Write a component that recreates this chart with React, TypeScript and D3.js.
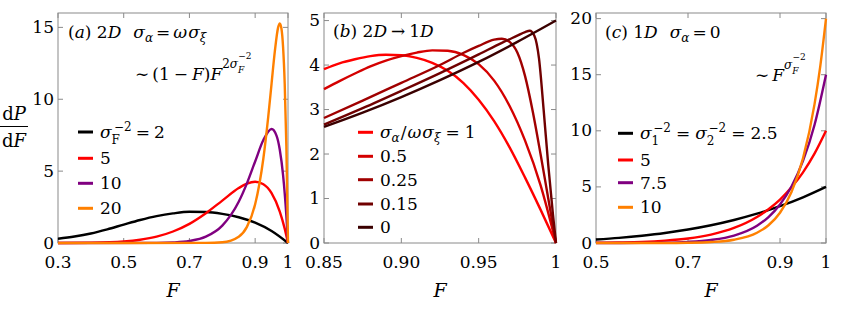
import * as d3 from 'd3'
import type { ReactNode } from 'react'

type Pt = [number, number]

const FONT = 'DejaVu Serif, serif'

// (a) 2D, sigma_alpha = omega sigma_xi
const aXTicks = [0.3, 0.5, 0.7, 0.9, 1]
const aXLabels = ['0.3', '0.5', '0.7', '0.9', '1']
const aYTicks = [0, 5, 10, 15]
const aColors = ['#000000', '#ff0000', '#800080', '#ff8000']
const aLegend = ['5', '10', '20']
const aSig2: Pt[] = [
  [0.3, 0.3], [0.35, 0.45], [0.4, 0.66], [0.45, 0.95], [0.5, 1.28], [0.55, 1.6], [0.6, 1.87],
  [0.65, 2.06], [0.7, 2.17], [0.75, 2.16], [0.8, 2.03], [0.85, 1.79], [0.9, 1.41], [0.95, 0.83], [1, 0],
]
const aSig5: Pt[] = [
  [0.3, 0], [0.4, 0.02], [0.5, 0.11], [0.55, 0.23], [0.6, 0.44], [0.65, 0.8], [0.7, 1.33], [0.75, 2.07],
  [0.8, 2.95], [0.85, 3.82], [0.875, 4.13], [0.9, 4.26], [0.925, 4.09], [0.95, 3.47], [0.975, 2.19],
  [0.99, 1.0], [1, 0],
]
const aSig10: Pt[] = [
  [0.3, 0], [0.6, 0.01], [0.65, 0.04], [0.7, 0.14], [0.75, 0.44], [0.8, 1.21], [0.85, 2.87], [0.875, 4.15],
  [0.9, 5.67], [0.925, 7.16], [0.95, 7.93], [0.965, 7.47], [0.975, 6.49], [0.985, 4.73], [0.995, 1.91], [1, 0],
]
const aSig20: Pt[] = [
  [0.3, 0], [0.75, 0.01], [0.8, 0.05], [0.85, 0.44], [0.875, 1.12], [0.9, 2.69], [0.925, 5.88], [0.94, 8.81],
  [0.95, 11.09], [0.96, 13.35], [0.97, 15.0], [0.975, 15.27], [0.98, 14.92], [0.985, 13.64], [0.99, 11.08],
  [0.995, 6.74], [1, 0],
]

// (b) 2D -> 1D
const bXTicks = [0.85, 0.9, 0.95, 1]
const bXLabels = ['0.85', '0.90', '0.95', '1']
const bYTicks = [0, 1, 2, 3, 4, 5]
const bColors = ['#ff0000', '#d40000', '#a00000', '#700000', '#3a0000']
const bLegend = ['0.5', '0.25', '0.15', '0']
const bR1: Pt[] = [
  [0.85, 3.91], [0.86, 4.04], [0.87, 4.13], [0.88, 4.2], [0.89, 4.23], [0.9, 4.22], [0.91, 4.16], [0.92, 4.05],
  [0.93, 3.87], [0.94, 3.6], [0.95, 3.22], [0.96, 2.74], [0.97, 2.15], [0.98, 1.47], [0.99, 0.75], [1, 0],
]
const bR05: Pt[] = [
  [0.85, 3.46], [0.86, 3.64], [0.87, 3.81], [0.88, 3.97], [0.89, 4.1], [0.9, 4.2], [0.91, 4.28], [0.92, 4.33],
  [0.93, 4.32], [0.94, 4.23], [0.95, 4.02], [0.96, 3.65], [0.97, 3.08], [0.98, 2.3], [0.99, 1.3], [1, 0],
]
const bR025: Pt[] = [
  [0.85, 2.81], [0.875, 3.2], [0.9, 3.6], [0.925, 4.0], [0.94, 4.27], [0.95, 4.43], [0.96, 4.57], [0.965, 4.59],
  [0.97, 4.52], [0.975, 4.28], [0.98, 3.75], [0.985, 2.95], [0.99, 2.0], [0.995, 1.0], [1, 0],
]
const bR015: Pt[] = [
  [0.85, 2.66], [0.875, 3.03], [0.9, 3.42], [0.925, 3.82], [0.95, 4.24], [0.965, 4.5], [0.975, 4.66], [0.98, 4.74],
  [0.983, 4.77], [0.986, 4.66], [0.989, 4.15], [0.992, 3.0], [0.995, 1.75], [0.998, 0.65], [1, 0],
]
const bR0: Pt[] = [
  [0.85, 2.61], [0.875, 2.93], [0.9, 3.28], [0.925, 3.66], [0.95, 4.07], [0.975, 4.52], [1, 5.0],
]

// (c) 1D, sigma_alpha = 0
const cXTicks = [0.5, 0.7, 0.9, 1]
const cXLabels = ['0.5', '0.7', '0.9', '1']
const cYTicks = [0, 5, 10, 15, 20]
const cColors = ['#000000', '#ff0000', '#800080', '#ff8000']
const cLegend = ['5', '7.5', '10']
const cSig25: Pt[] = [
  [0.5, 0.31], [0.55, 0.46], [0.6, 0.65], [0.65, 0.89], [0.7, 1.2], [0.75, 1.58], [0.8, 2.05], [0.85, 2.61],
  [0.9, 3.28], [0.95, 4.07], [1, 5.0],
]
const cSig5: Pt[] = [
  [0.5, 0.02], [0.55, 0.05], [0.6, 0.1], [0.65, 0.21], [0.7, 0.4], [0.75, 0.75], [0.8, 1.34], [0.85, 2.32],
  [0.875, 3.01], [0.9, 3.87], [0.925, 4.96], [0.95, 6.3], [0.975, 7.96], [1, 10],
]
const cSig75: Pt[] = [
  [0.5, 0], [0.6, 0.01], [0.65, 0.03], [0.7, 0.1], [0.75, 0.27], [0.8, 0.66], [0.85, 1.54], [0.875, 2.31],
  [0.9, 3.43], [0.925, 5.04], [0.95, 7.32], [0.975, 10.52], [1, 15],
]
const cSig10: Pt[] = [
  [0.5, 0], [0.65, 0], [0.7, 0.02], [0.75, 0.085], [0.8, 0.29], [0.85, 0.91], [0.875, 1.58], [0.9, 2.7],
  [0.925, 4.55], [0.95, 7.55], [0.975, 12.36], [0.9875, 15.75], [1, 20],
]

const TOP = 13
const BOTTOM = 243
const FRAME = '#8a8a8a'
const FS = 17

function Panel({
  id,
  left,
  right,
  xDomain,
  yMax,
  xTicks,
  xLabels,
  yTicks,
  series,
  colors,
}: {
  id: string
  left: number
  right: number
  xDomain: [number, number]
  yMax: number
  xTicks: number[]
  xLabels: string[]
  yTicks: number[]
  series: Pt[][]
  colors: string[]
}) {
  const x = d3.scaleLinear().domain(xDomain).range([left, right])
  const y = d3.scaleLinear().domain([0, yMax]).range([BOTTOM, TOP])
  const line = d3
    .line<Pt>()
    .x((d) => x(d[0]))
    .y((d) => y(d[1]))
    .curve(d3.curveMonotoneX)
  const tl = 5
  return (
    <g>
      <clipPath id={id}>
        <rect x={left - 2} y={TOP - 2} width={right - left + 4} height={BOTTOM - TOP + 4} />
      </clipPath>
      <rect x={left} y={TOP} width={right - left} height={BOTTOM - TOP} fill="none" stroke={FRAME} strokeWidth={1} />
      {xTicks.map((t, i) => (
        <g key={'x' + i}>
          <line x1={x(t)} x2={x(t)} y1={BOTTOM} y2={BOTTOM - tl} stroke={FRAME} />
          <line x1={x(t)} x2={x(t)} y1={TOP} y2={TOP + tl} stroke={FRAME} />
          <text x={x(t)} y={267.5} textAnchor="middle" fontSize={FS}>
            {xLabels[i]}
          </text>
        </g>
      ))}
      {yTicks.map((t) => (
        <g key={'y' + t}>
          <line x1={left} x2={left + tl} y1={y(t)} y2={y(t)} stroke={FRAME} />
          <line x1={right} x2={right - tl} y1={y(t)} y2={y(t)} stroke={FRAME} />
          <text x={left - 4} y={y(t) + 5.5} textAnchor="end" fontSize={FS}>
            {t}
          </text>
        </g>
      ))}
      <g clipPath={`url(#${id})`}>
        {series.map((s, i) => (
          <path key={i} d={line(s) ?? ''} fill="none" stroke={colors[i]} strokeWidth={2.4} strokeLinejoin="round" />
        ))}
      </g>
      <text x={(left + right) / 2} y={297} textAnchor="middle" fontSize={19} fontStyle="italic">
        F
      </text>
    </g>
  )
}

function LegendRows({
  x,
  rows,
  colors,
  labels,
}: {
  x: number
  rows: number[]
  colors: string[]
  labels: ReactNode[]
}) {
  return (
    <g>
      {rows.map((r, i) => (
        <g key={i}>
          <line x1={x} x2={x + 15} y1={r} y2={r} stroke={colors[i]} strokeWidth={3} />
          <text x={x + 22} y={r + 6} fontSize={FS}>
            {labels[i]}
          </text>
        </g>
      ))}
    </g>
  )
}

const it = { fontStyle: 'italic' as const }

export default function App() {
  return (
    <div style={{ position: 'absolute', left: 0, top: 0 }}>
      <svg width={862} height={314} style={{ display: 'block' }}>
        <rect width={862} height={314} fill="#fff" />
        <g fontFamily={FONT} fill="#000">
          {/* y label dP/dF */}
          <text x={14} y={120} textAnchor="middle" fontSize={18}>
            d<tspan style={it}>P</tspan>
          </text>
          <line x1={0} x2={28} y1={126.5} y2={126.5} stroke="#000" strokeWidth={1} />
          <text x={14} y={147} textAnchor="middle" fontSize={18}>
            d<tspan style={it}>F</tspan>
          </text>

          {/* panel (a) */}
          <Panel
            id="clipA"
            left={58}
            right={288}
            xDomain={[0.3, 1]}
            yMax={16}
            xTicks={aXTicks}
            xLabels={aXLabels}
            yTicks={aYTicks}
            series={[aSig2, aSig5, aSig10, aSig20]}
            colors={aColors}
          />
          <text x={68} y={38} fontSize={FS}>
            (<tspan style={it}>a</tspan>) 2<tspan style={it}>D</tspan>
            <tspan dx={12} style={it}>σ</tspan>
            <tspan fontSize={12} dy={4} style={it}>α</tspan>
            <tspan dy={-4} dx={3}>=</tspan>
            <tspan dx={3} style={it}>ω</tspan>
            <tspan dx={1} style={it}>σ</tspan>
            <tspan fontSize={12} dy={4} style={it}>ξ</tspan>
          </text>
          <text x={135} y={80} fontSize={FS}>
            ∼<tspan dx={3}>(1</tspan>
            <tspan dx={4}>−</tspan>
            <tspan dx={4} style={it}>F</tspan>)<tspan style={it}>F</tspan>
            <tspan fontSize={12} dy={-12}>2</tspan>
            <tspan fontSize={12} style={it}>σ</tspan>
            <tspan fontSize={9} dy={5} style={it}>F</tspan>
            <tspan fontSize={9} dx={-6} dy={-14}>−2</tspan>
          </text>
          <LegendRows
            x={78}
            rows={[132, 158.3, 183.3, 208.3]}
            colors={aColors}
            labels={[
              <>
                <tspan style={it}>σ</tspan>
                <tspan fontSize={12} dy={6}>F</tspan>
                <tspan fontSize={12} dx={-6} dy={-13}>−2</tspan>
                <tspan dy={7} dx={4}>=</tspan>
                <tspan dx={4}>2</tspan>
              </>,
              ...aLegend,
            ]}
          />

          {/* panel (b) */}
          <Panel
            id="clipB"
            left={324}
            right={556}
            xDomain={[0.85, 1]}
            yMax={5.17}
            xTicks={bXTicks}
            xLabels={bXLabels}
            yTicks={bYTicks}
            series={[bR1, bR05, bR025, bR015, bR0]}
            colors={bColors}
          />
          <text x={333} y={37} fontSize={FS}>
            (<tspan style={it}>b</tspan>) 2<tspan style={it}>D</tspan>
            <tspan dx={4}>→</tspan>
            <tspan dx={4}>1</tspan>
            <tspan style={it}>D</tspan>
          </text>
          <LegendRows
            x={358}
            rows={[132.3, 156.3, 179.7, 204, 227.3]}
            colors={bColors}
            labels={[
              <>
                <tspan style={it}>σ</tspan>
                <tspan fontSize={12} dy={4} style={it}>α</tspan>
                <tspan dy={-4} dx={1}>/</tspan>
                <tspan dx={1} style={it}>ω</tspan>
                <tspan dx={1} style={it}>σ</tspan>
                <tspan fontSize={12} dy={4} style={it}>ξ</tspan>
                <tspan dy={-4} dx={5}>=</tspan>
                <tspan dx={5}>1</tspan>
              </>,
              ...bLegend,
            ]}
          />

          {/* panel (c) */}
          <Panel
            id="clipC"
            left={596}
            right={826}
            xDomain={[0.5, 1]}
            yMax={20.5}
            xTicks={cXTicks}
            xLabels={cXLabels}
            yTicks={cYTicks}
            series={[cSig25, cSig5, cSig75, cSig10]}
            colors={cColors}
          />
          <text x={605} y={38} fontSize={FS}>
            (<tspan style={it}>c</tspan>) 1<tspan style={it}>D</tspan>
            <tspan dx={12} style={it}>σ</tspan>
            <tspan fontSize={12} dy={4} style={it}>α</tspan>
            <tspan dy={-4} dx={3}>=</tspan>
            <tspan dx={3}>0</tspan>
          </text>
          <text x={755} y={81} fontSize={FS}>
            ∼<tspan dx={3} style={it}>F</tspan>
            <tspan fontSize={12} dy={-12} style={it}>σ</tspan>
            <tspan fontSize={9} dy={5} style={it}>F</tspan>
            <tspan fontSize={9} dx={-6} dy={-14}>−2</tspan>
          </text>
          <LegendRows
            x={618}
            rows={[133.3, 160, 182.7, 207.3]}
            colors={cColors}
            labels={[
              <>
                <tspan style={it}>σ</tspan>
                <tspan fontSize={12} dy={6}>1</tspan>
                <tspan fontSize={12} dx={-6} dy={-13}>−2</tspan>
                <tspan dy={7} dx={5}>=</tspan>
                <tspan dx={5} style={it}>σ</tspan>
                <tspan fontSize={12} dy={6}>2</tspan>
                <tspan fontSize={12} dx={-6} dy={-13}>−2</tspan>
                <tspan dy={7} dx={5}>=</tspan>
                <tspan dx={5}>2.5</tspan>
              </>,
              ...cLegend,
            ]}
          />
        </g>
      </svg>
    </div>
  )
}
